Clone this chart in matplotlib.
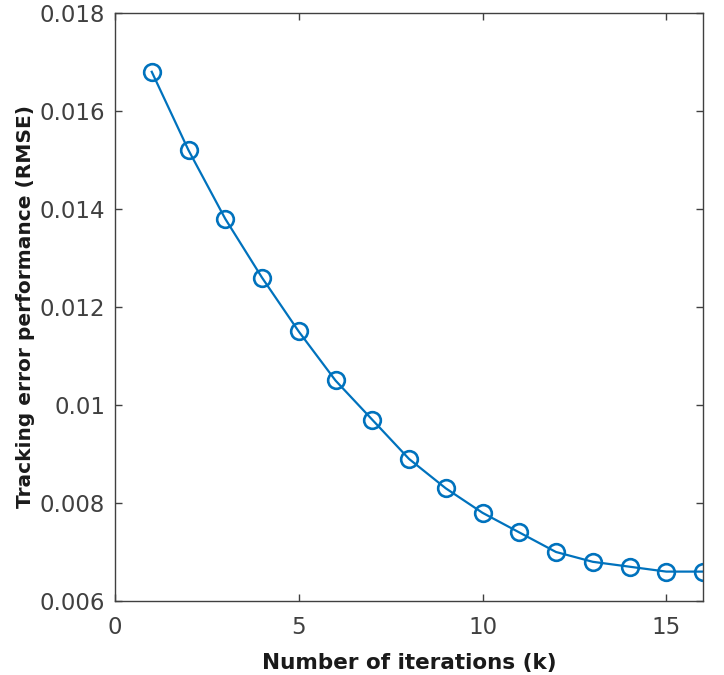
import matplotlib
matplotlib.use("Agg")
import matplotlib.pyplot as plt

iterations = [1, 2, 3, 4, 5, 6, 7, 8, 9, 10, 11, 12, 13, 14, 15, 16]
rmse = [0.0168, 0.0152, 0.0138, 0.0126, 0.0115, 0.0105, 0.0097, 0.0089,
        0.0083, 0.0078, 0.0074, 0.0070, 0.0068, 0.0067, 0.0066, 0.0066]
xticks = [0, 5, 10, 15]
yticks = [0.006, 0.008, 0.01, 0.012, 0.014, 0.016, 0.018]
ytick_labels = ["0.006", "0.008", "0.01", "0.012", "0.014", "0.016", "0.018"]

plt.rcParams['font.family'] = ['DejaVu Sans']

fig = plt.figure(figsize=(7.24, 6.75), dpi=100)
ax = fig.add_axes([115/724, 74/675, 588/724, 588/675])

ax.plot(iterations, rmse, color='#0072BD', linewidth=1.6, marker='o',
        markersize=12, markerfacecolor='none', markeredgewidth=1.9,
        markeredgecolor='#0072BD')

ax.set_xlim(0, 16)
ax.set_ylim(0.006, 0.018)
ax.set_xticks(xticks)
ax.set_xticklabels([str(t) for t in xticks])
ax.set_yticks(yticks)
ax.set_yticklabels(ytick_labels)

for s in ax.spines.values():
    s.set_color('#404040')
    s.set_linewidth(1.0)
ax.tick_params(direction='in', top=True, right=True, length=5, width=1.0,
               colors='#404040', labelsize=16.5)
ax.tick_params(axis='x', pad=11)
ax.tick_params(axis='y', pad=7)

ax.set_xlabel('Number of iterations (k)', fontsize=15.5, fontweight='bold',
              color='#1a1a1a')
ax.set_ylabel('Tracking error performance (RMSE)', fontsize=14.5,
              fontweight='bold', color='#1a1a1a')
ax.xaxis.set_label_coords(0.5, -0.088)
ax.yaxis.set_label_coords(-0.136, 0.5)

fig.savefig('out.png', dpi=100, facecolor='white')
